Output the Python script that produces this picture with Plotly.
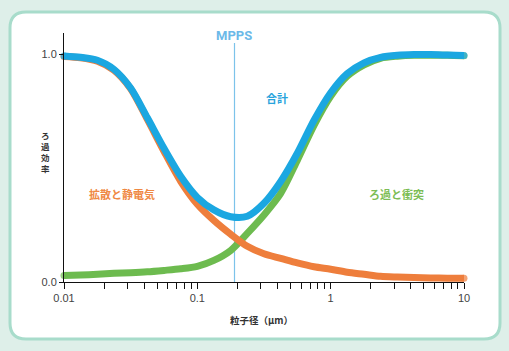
import plotly.graph_objects as go

# particle size (µm), sample points
size_um = [0.01, 0.0133, 0.0178, 0.0237, 0.0316, 0.0422, 0.0562, 0.075, 0.1,
           0.133, 0.178, 0.237, 0.316, 0.422, 0.562, 0.75, 1.0,
           1.33, 1.78, 2.37, 3.16, 4.22, 5.62, 7.5, 10]
# diffusion & electrostatic
eff_diffusion = [0.992, 0.986, 0.971, 0.931, 0.850, 0.715, 0.575, 0.443, 0.342,
                 0.271, 0.210, 0.157, 0.124, 0.104, 0.084, 0.067, 0.056,
                 0.043, 0.034, 0.025, 0.022, 0.020, 0.018, 0.017, 0.016]
# interception & impaction
eff_impaction = [0.029, 0.031, 0.034, 0.038, 0.041, 0.045, 0.051, 0.058, 0.069,
                 0.095, 0.139, 0.214, 0.295, 0.390, 0.535, 0.689, 0.817,
                 0.905, 0.955, 0.984, 0.993, 0.997, 0.997, 0.997, 0.995]
# total
eff_total = [0.994, 0.988, 0.975, 0.935, 0.853, 0.722, 0.588, 0.465, 0.372,
             0.317, 0.287, 0.289, 0.346, 0.442, 0.566, 0.711, 0.832,
             0.916, 0.964, 0.988, 0.997, 1.0, 1.0, 0.998, 0.996]
mpps = 0.19

x_ticks = [0.01, 0.02, 0.03, 0.04, 0.05, 0.06, 0.07, 0.08, 0.09,
           0.1, 0.2, 0.3, 0.4, 0.5, 0.6, 0.7, 0.8, 0.9,
           1, 2, 3, 4, 5, 6, 7, 8, 9, 10]
x_labels = {0.01: "0.01", 0.1: "0.1", 1: "1", 10: "10"}

W, H = 509, 351
ML, MR, MT, MB = 64, 45, 33, 69
PW, PH = W - ML - MR, H - MT - MB

def px(x):
    return (x - ML) / PW

def py(y):
    return (H - MB - y) / PH

def rounded_rect(x0, y0, x1, y1, r):
    rx, ry = r / PW, r / PH
    X0, X1 = px(x0), px(x1)
    Y0, Y1 = py(y0), py(y1)
    return (f"M {X0+rx},{Y0} L {X1-rx},{Y0} Q {X1},{Y0} {X1},{Y0-ry} "
            f"L {X1},{Y1+ry} Q {X1},{Y1} {X1-rx},{Y1} "
            f"L {X0+rx},{Y1} Q {X0},{Y1} {X0},{Y1+ry} "
            f"L {X0},{Y0-ry} Q {X0},{Y0} {X0+rx},{Y0} Z")

fig = go.Figure()

def add_curve(y, color):
    n = len(size_um)
    sizes = [7] + [0] * (n - 2) + [7]
    fig.add_trace(go.Scatter(
        x=size_um, y=y, mode="lines+markers",
        line=dict(color=color, width=7, shape="spline", smoothing=0.8),
        marker=dict(size=sizes, color=color, line=dict(width=0)),
        cliponaxis=False, hoverinfo="skip", showlegend=False))

add_curve(eff_impaction, "#6dbb4f")
add_curve(eff_diffusion, "#ee7e3c")
add_curve(eff_total, "#1ba7e1")

# panel (first, so it sits beneath everything)
fig.add_shape(type="path", xref="paper", yref="paper",
              path=rounded_rect(10, 12, 500, 339, 16),
              fillcolor="white", line=dict(color="#a8dccb", width=3), layer="below")
# MPPS line
fig.add_shape(type="line", xref="x", yref="paper", x0=mpps, x1=mpps,
              y0=0, y1=py(43), line=dict(color="#7cc3ea", width=1.2), layer="below")

jp = "Noto Sans CJK JP"

def label(x, y, text, size, color, family=jp):
    fig.add_annotation(xref="paper", yref="paper", x=px(x), y=py(y), text=text,
                       showarrow=False, xanchor="center", yanchor="middle",
                       font=dict(family=family, size=size, color=color))

label(234, 35, "<b>MPPS</b>", 13, "#6cb9e8", "Roboto, Arial")
label(277, 98, "<b>合計</b>", 11, "#27a3dc")
label(122, 194, "<b>拡散と静電気</b>", 11, "#ef8944")
label(396, 194, "<b>ろ過と衝突</b>", 11, "#7cbd55")
label(45, 151, "<b>ろ<br>過<br>効<br>率</b>", 8.5, "#333333")
label(261, 320, "<b>粒子径（μm）</b>", 9.5, "#333333")

fig.update_layout(
    width=W, height=H,
    margin=dict(l=ML, r=MR, t=MT, b=MB),
    paper_bgcolor="#deefe9", plot_bgcolor="rgba(0,0,0,0)",
    xaxis=dict(type="log", range=[-2, 1], showgrid=False, zeroline=False,
               showline=True, linecolor="#111111", linewidth=1,
               ticks="outside", ticklen=6, tickcolor="#111111", tickwidth=1,
               tickvals=x_ticks, ticktext=[x_labels.get(v, "") for v in x_ticks],
               tickfont=dict(family="Arial", size=11, color="#444444")),
    yaxis=dict(range=[0, PH / 227.4], showgrid=False, zeroline=False,
               showline=True, linecolor="#111111", linewidth=1,
               ticks="outside", ticklen=4, tickcolor="#111111",
               tickvals=[0, 1], ticktext=["0.0", "1.0"],
               tickfont=dict(family="Arial", size=11, color="#444444")),
)

fig.write_html("out.html")
